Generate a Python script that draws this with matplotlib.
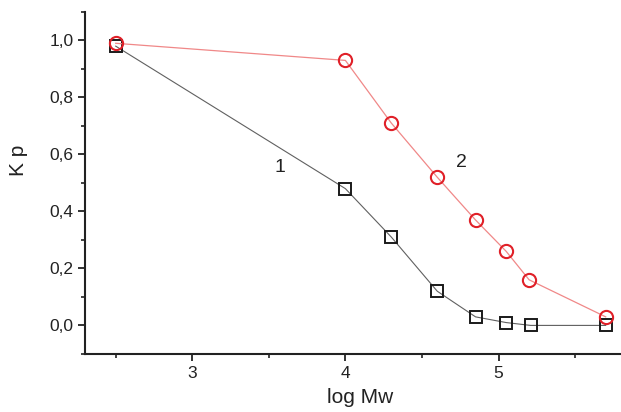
import matplotlib
matplotlib.use("Agg")
import matplotlib.pyplot as plt
from matplotlib.ticker import MultipleLocator, FuncFormatter

# serie 1 (quadrados)
x1 = [2.5, 4.0, 4.30, 4.60, 4.85, 5.05, 5.21, 5.70]
y1 = [0.98, 0.48, 0.31, 0.12, 0.03, 0.01, 0.0, 0.0]

# serie 2 (circulos)
x2 = [2.5, 4.0, 4.30, 4.60, 4.85, 5.05, 5.20, 5.70]
y2 = [0.99, 0.93, 0.71, 0.52, 0.37, 0.26, 0.16, 0.03]

plt.rcParams['font.family'] = ['Liberation Sans', 'DejaVu Sans']

fig = plt.figure(figsize=(6.21, 4.12), dpi=100)
ax = fig.add_axes([0.137, 0.141, 0.863, 0.830])

ax.plot(x1, y1, color='#606060', lw=0.8, marker='s', ms=8.5,
        mfc='none', mec='#1a1a1a', mew=1.4, zorder=3)
ax.plot(x2, y2, color='#f08888', lw=0.9, marker='o', ms=9.5,
        mfc='none', mec='#e02028', mew=1.5, zorder=4)

ax.text(3.57, 0.555, '1', fontsize=14, ha='center', va='center', color='#222222')
ax.text(4.756, 0.572, '2', fontsize=14, ha='center', va='center', color='#222222')

ax.set_xlim(2.3, 5.8)
ax.set_ylim(-0.1, 1.1)

ax.xaxis.set_major_locator(MultipleLocator(1))
ax.xaxis.set_minor_locator(MultipleLocator(0.5))
ax.yaxis.set_major_locator(MultipleLocator(0.2))
ax.yaxis.set_minor_locator(MultipleLocator(0.1))
ax.yaxis.set_major_formatter(FuncFormatter(lambda v, p: ('%.1f' % v).replace('.', ',')))

ax.spines['top'].set_visible(False)
ax.spines['right'].set_visible(False)
for s in ['left', 'bottom']:
    ax.spines[s].set_linewidth(1.5)
    ax.spines[s].set_color('#222222')

ax.tick_params(which='major', direction='out', length=5, width=1.3,
               labelsize=12.5, color='#222222', labelcolor='#222222')
ax.tick_params(which='minor', direction='out', length=3, width=1.2, color='#222222')

ax.set_xlabel('log Mw', fontsize=15, color='#222222')
ax.set_ylabel('K p', fontsize=15, color='#222222')
ax.xaxis.set_label_coords(0.513, -0.10)
ax.yaxis.set_label_coords(-0.106, 0.567)

fig.savefig('out.png', dpi=100)
